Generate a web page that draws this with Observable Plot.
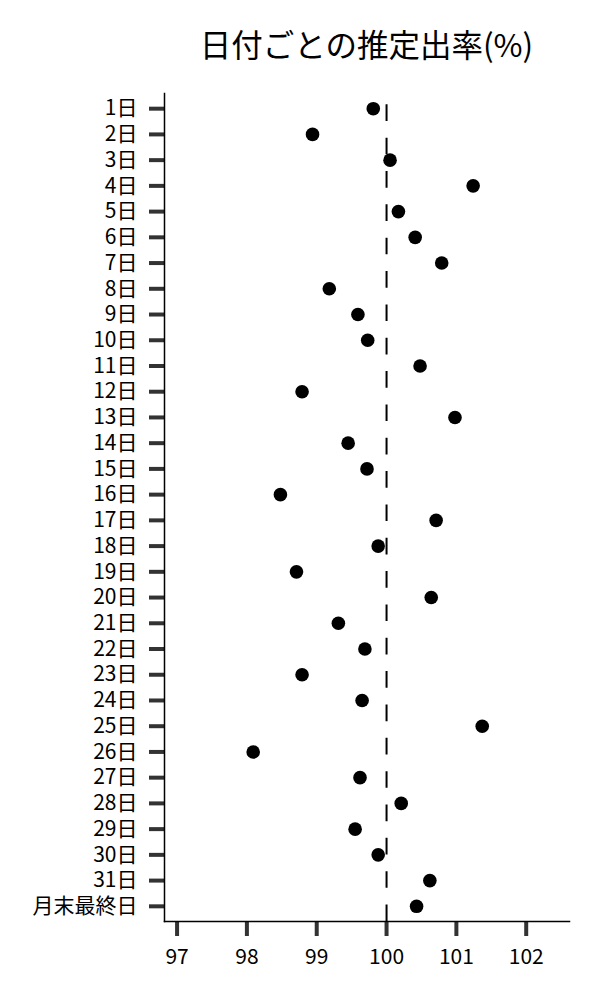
<!DOCTYPE html>
<html><head><meta charset="utf-8">
<script src="https://cdn.jsdelivr.net/npm/d3@7"></script>
<script src="https://cdn.jsdelivr.net/npm/@observablehq/plot@0.6"></script>
<style>
body{margin:0;background:#fff;font-family:"Noto Sans CJK JP",sans-serif;}
#title{height:80px;width:600px;box-sizing:border-box;padding-left:164px;padding-right:31px;text-align:center;font-size:31.5px;line-height:86px;color:#000;white-space:nowrap;}
</style></head>
<body><div id="title">日付ごとの推定出率(%)</div><div id="chart"></div>
<script>
const days = ["1日","2日","3日","4日","5日","6日","7日","8日","9日","10日","11日","12日","13日","14日","15日","16日","17日","18日","19日","20日","21日","22日","23日","24日","25日","26日","27日","28日","29日","30日","31日","月末最終日"];
const rates = [99.81,98.94,100.05,101.24,100.17,100.41,100.79,99.18,99.59,99.73,100.48,98.79,100.98,99.45,99.72,98.48,100.71,99.88,98.71,100.64,99.31,99.69,98.79,99.65,101.37,98.09,99.62,100.21,99.55,99.88,100.62,100.43];
const xTicks = [97,98,99,100,101,102];
const reference = 100;
const data = days.map((d,i)=>({day:d, rate:rates[i]}));
const chart = Plot.plot({
  width:600, height:920, marginTop:13, marginBottom:79, marginLeft:164, marginRight:31,
  style:{fontFamily:'"Noto Sans CJK JP", sans-serif', fontSize:"21px", color:"#000", background:"#fff", overflow:"visible"},
  x:{domain:[96.82,102.62]},
  y:{type:"point", domain:days, padding:0.59, round:false},
  marks:[
    Plot.ruleX([reference], {stroke:"#000", strokeWidth:2, strokeDasharray:"16.67,16.67", strokeDashoffset:22}),
    Plot.dot(data,{x:"rate",y:"day",r:6.8,fill:"#000",stroke:null}),
    Plot.axisX({ticks:xTicks, tickFormat:d3.format("d"), tickSize:15, tickPadding:13, stroke:"#333", strokeWidth:4, fill:"#000", label:null, fontSize:21}),
    Plot.axisY({tickSize:15, tickPadding:12, stroke:"#333", strokeWidth:4, fill:"#000", label:null, fontSize:21}),
    Plot.frame({anchor:"bottom", stroke:"#000", strokeWidth:1.5}),
    Plot.frame({anchor:"left", stroke:"#000", strokeWidth:1.5})
  ]
});
document.getElementById("chart").appendChild(chart);
</script>
</body></html>
